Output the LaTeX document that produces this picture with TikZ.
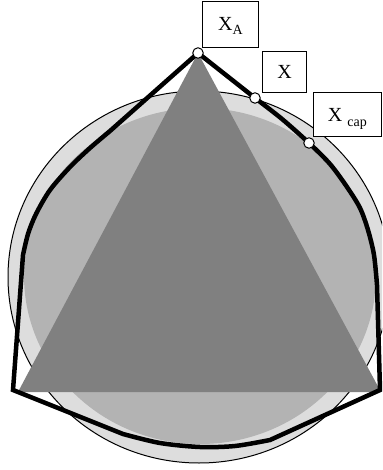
\documentclass[tikz,border=0pt]{standalone}
\usepackage{fontspec}
\setmainfont{Liberation Serif}
\definecolor{outerg}{HTML}{DDDDDD}
\definecolor{innerg}{HTML}{B3B3B3}
\definecolor{trig}{HTML}{808080}
\newcommand{\subtxt}{\fontsize{14}{16}\selectfont}
\tikzset{
  thickline/.style={line width=4.5pt, line join=miter, draw=black},
  marker/.style={circle, draw=black, fill=white, line width=1pt, inner sep=0pt, minimum size=10.5pt},
  lbl/.style={draw=black, fill=white, line width=0.8pt, inner sep=0pt, text height=13.2pt, text depth=0pt, font=\fontsize{20}{24}\selectfont}
}
\begin{document}
\begin{tikzpicture}[x=1pt,y=-1pt]
\path[use as bounding box, clip] (0,0) rectangle (382,470);
% key points
\coordinate (A) at (198,53);
\coordinate (X) at (255,98);
\coordinate (Xc) at (309,143);
\coordinate (TL) at (18,392);
\coordinate (TR) at (381,392);
\coordinate (R) at (380,390);
\coordinate (L) at (13,390);
% circles
\filldraw[fill=outerg, draw=black, line width=1pt] (199,277) ellipse [x radius=191, y radius=186];
\fill[innerg] (200,276) ellipse [x radius=176, y radius=168];
% triangle
\fill[trig] (A) -- (TL) -- (TR) -- cycle;
% thick outline
\draw[thickline] (A) -- plot[smooth, tension=0.5] coordinates {(X) (282,119) (Xc) (330,164) (347,187) (360,208) (368,230) (374,255) (377,285)}
  -- (R)
  -- plot[smooth, tension=0.5] coordinates {(270,440) (235,446) (200,447) (160,443) (123,434)}
  -- (L)
  -- plot[smooth, tension=0.5] coordinates {(23,255) (28,234) (36,214) (50,190) (70,167) (90,148) (110,131)}
  -- cycle;
% markers
\node[marker] (mA) at (A) {};
\node[marker] (mX) at (X) {};
\node[marker] (mXc) at (Xc) {};
% labels
\node[lbl, minimum width=55.6pt, minimum height=46.7pt] (lA) at (230.5,24.3) {X\raisebox{-3.5pt}{\subtxt A}};
\node[lbl, minimum width=43.6pt, minimum height=40.6pt] (lX) at (284.5,72) {X};
\node[lbl, minimum width=68.2pt, minimum height=44.4pt] (lXc) at (347.4,114.5) {X\hspace{5pt}\raisebox{-5pt}{\subtxt cap}};
\end{tikzpicture}
\end{document}
